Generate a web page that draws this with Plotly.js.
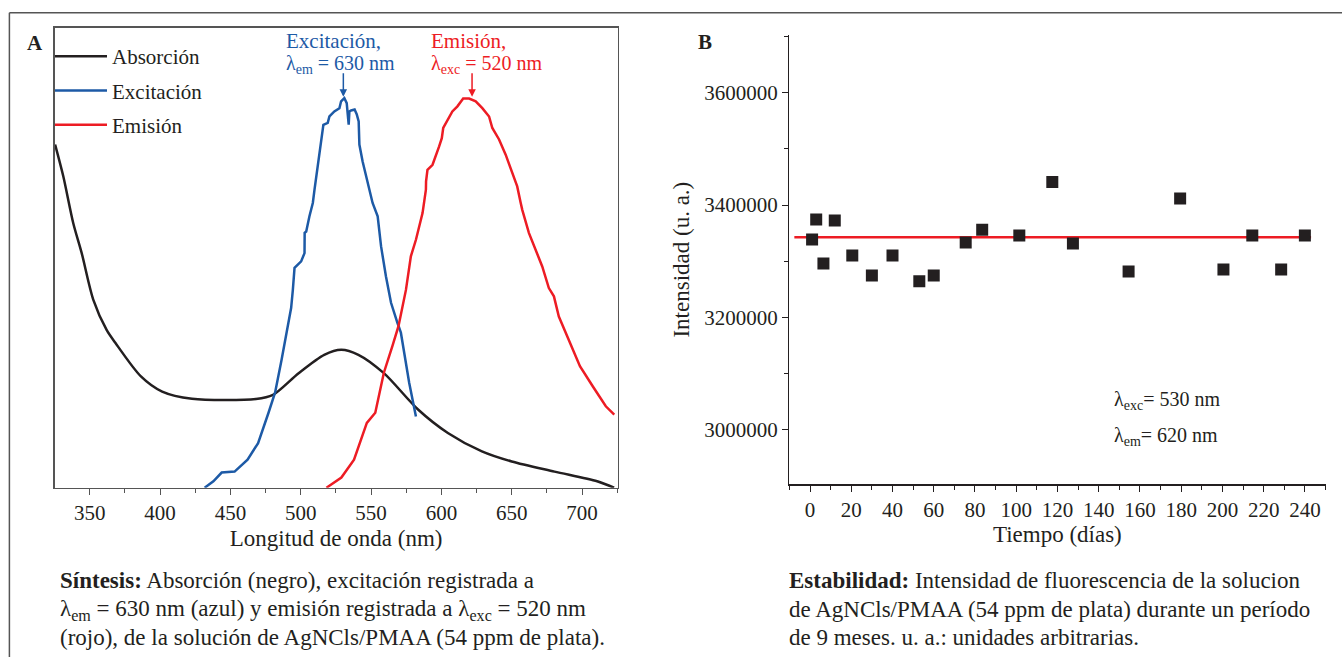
<!DOCTYPE html>
<html>
<head>
<meta charset="utf-8">
<script src="https://cdn.plot.ly/plotly-3.0.1.min.js"></script>
<style>html,body{margin:0;padding:0;background:#fff;}#chart{width:1342px;height:657px;}</style>
</head>
<body>
<div id="chart"></div>
<script>
// ---- Panel A: spectra (normalised intensity, no y units) ----
const absWl = [325.4,331.2,338.3,344.3,352.5,362.0,368.2,386.4,401.5,422.7,468.2,480.3,498.5,516.7,528.8,541.0,559.1,583.4,604.6,628.8,650.0,680.4,710.7,722.8];
const absVal = [0.746,0.677,0.575,0.510,0.409,0.343,0.315,0.242,0.209,0.1935,0.193,0.202,0.249,0.289,0.300,0.289,0.249,0.170,0.119,0.079,0.057,0.035,0.014,0.0];

const excWl = [431.7,437.9,443.8,453.0,462.2,469.7,477.1,481.8,486.4,490.8,493.2,494.4,495.6,500.3,502.7,502.8,503.9,506.2,508.6,509.8,512.1,514.5,516.1,519.2,520.4,523.9,527.5,528.7,531.0,532.7,534.1,534.6,535.8,538.3,539.8,541.2,541.7,544.0,547.6,548.8,551.1,554.7,557.1,560.6,564.2,568.8,571.2,577.1,581.9];
const excVal = [0.0,0.014,0.033,0.035,0.061,0.097,0.163,0.207,0.278,0.351,0.391,0.430,0.478,0.492,0.510,0.554,0.557,0.590,0.619,0.648,0.702,0.753,0.789,0.793,0.807,0.818,0.825,0.840,0.847,0.836,0.789,0.818,0.820,0.822,0.812,0.796,0.746,0.709,0.666,0.648,0.619,0.590,0.525,0.459,0.402,0.358,0.337,0.228,0.155];

const emiWl = [518.3,528.9,537.9,547.0,553.0,559.1,565.1,569.5,574.8,578.3,581.9,586.6,589.0,589.1,590.1,593.7,598.4,600.3,601.3,604.3,607.8,611.4,615.5,619.7,624.4,629.1,633.9,636.2,641.0,645.7,650.4,653.9,656.4,657.5,662.2,667.0,671.7,676.4,680.0,683.5,688.5,698.5,707.7,716.9,722.9];
const emiVal = [0.0,0.022,0.061,0.141,0.163,0.250,0.307,0.351,0.430,0.503,0.539,0.597,0.648,0.666,0.691,0.702,0.742,0.760,0.782,0.800,0.818,0.829,0.846,0.846,0.840,0.825,0.807,0.782,0.757,0.724,0.684,0.655,0.619,0.604,0.554,0.517,0.481,0.434,0.416,0.372,0.337,0.264,0.220,0.177,0.159];

const seriesNamesA = ["Absorción","Excitación","Emisión"];

// ---- Panel B: stability ----
const days = [1,3,6.5,12,20.5,30,40,53,60,75.5,83.5,101.5,117.5,127.5,154.5,179.5,200.5,214.5,228.5,240];
const intensity = [3339000,3374600,3296200,3372800,3310500,3274900,3310500,3264800,3274900,3333700,3356100,3346100,3441000,3331900,3282100,3411900,3285600,3346100,3285600,3346100];
const meanDays = [-7.6,243];
const meanLevel = [3343000,3343000];

const FONT = "Liberation Serif, Times New Roman, serif";
const TXT = "#231f20";
const BLUE = "#1d5aa6";
const RED = "#ed1c24";

const traces = [
  {x: absWl, y: absVal, name: seriesNamesA[0], type: "scatter", mode: "lines", line: {color: TXT, width: 2.5, shape: "spline", smoothing: 0.8}, xaxis: "x", yaxis: "y", legendgroup: "a"},
  {x: excWl, y: excVal, name: seriesNamesA[1], type: "scatter", mode: "lines", line: {color: BLUE, width: 2.5}, xaxis: "x", yaxis: "y", legendgroup: "b"},
  {x: emiWl, y: emiVal, name: seriesNamesA[2], type: "scatter", mode: "lines", line: {color: RED, width: 2.5}, xaxis: "x", yaxis: "y", legendgroup: "c"},
  {x: meanDays, y: meanLevel, type: "scatter", mode: "lines", line: {color: RED, width: 2.5}, xaxis: "x2", yaxis: "y2", showlegend: false},
  {x: days, y: intensity, type: "scatter", mode: "markers", marker: {symbol: "square", size: 12, color: TXT}, xaxis: "x2", yaxis: "y2", showlegend: false}
];

function py(p){ return 1 - p/657; }
function px(p){ return p/1342; }

const ann = [];
function txt(text, x, y, size, color, extra){
  ann.push(Object.assign({text: text, x: px(x), y: py(y), xref: "paper", yref: "paper", showarrow: false, xanchor: "left", yanchor: "middle", align: "left", font: {family: FONT, size: size, color: color || TXT}}, extra || {}));
}
// panel labels
txt("<b>A</b>", 35, 43, 21, TXT, {xanchor: "center"});
txt("<b>B</b>", 705, 42, 21, TXT, {xanchor: "center"});
// peak labels
txt("Excitación,", 284, 41, 21, BLUE);
txt("λ<sub>em</sub> = 630 nm", 284, 64, 20, BLUE);
txt("Emisión,", 429, 41, 21, RED);
txt("λ<sub>exc</sub> = 520 nm", 429, 64, 20, RED);
// arrows
ann.push({x: 530.3, y: 0.85, xref: "x", yref: "y", text: "", showarrow: true, ax: 0, ay: -25, arrowhead: 2, arrowsize: 1, arrowwidth: 1.5, arrowcolor: BLUE});
ann.push({x: 621.8, y: 0.85, xref: "x", yref: "y", text: "", showarrow: true, ax: 0, ay: -25, arrowhead: 2, arrowsize: 1, arrowwidth: 1.5, arrowcolor: RED});
// panel B notes
txt("λ<sub>exc</sub>= 530 nm", 1112, 400, 20);
txt("λ<sub>em</sub>= 620 nm", 1112, 436, 20);
// captions
const CAP = 23;
txt("<b>Síntesis:</b> Absorción (negro), excitación registrada a", 58, 580, CAP);
txt("λ<sub>em</sub> = 630 nm (azul) y emisión registrada a λ<sub>exc</sub> = 520 nm", 58, 610, CAP);
txt("(rojo), de la solución de AgNCls/PMAA (54 ppm de plata).", 58, 637, CAP);
txt("<b>Estabilidad:</b> Intensidad de fluorescencia de la solucion", 787, 580, CAP);
txt("de AgNCls/PMAA (54 ppm de plata) durante un período", 787, 609, CAP);
txt("de 9 meses. u. a.: unidades arbitrarias.", 787, 637, CAP);

const tickFont = {family: FONT, size: 21, color: TXT};
const titleFont = {family: FONT, size: 23, color: TXT};

const layout = {
  width: 1342, height: 657,
  margin: {l: 0, r: 0, t: 0, b: 0},
  paper_bgcolor: "#fff", plot_bgcolor: "#fff",
  font: {family: FONT, color: TXT},
  showlegend: true,
  legend: {x: px(50), y: py(36), xanchor: "left", yanchor: "top", bgcolor: "rgba(0,0,0,0)", font: {family: FONT, size: 21, color: TXT}, traceorder: "grouped", tracegroupgap: 4, itemwidth: 52},
  xaxis: {domain: [px(54.7), px(617.5)], anchor: "y", range: [325.1, 725.2], showline: true, linecolor: "#555", linewidth: 1.5, mirror: true,
    ticks: "outside", ticklen: 6, tickcolor: "#555", tick0: 350, dtick: 50, minor: {dtick: 25, ticklen: 4, ticks: "outside", tickcolor: "#555"},
    showgrid: false, zeroline: false, tickfont: tickFont, title: {text: "Longitud de onda (nm)", font: titleFont, standoff: 5}},
  yaxis: {domain: [py(487.7), py(27.7)], anchor: "x", range: [0, 1], showline: true, linecolor: "#555", linewidth: 1.5, mirror: true,
    ticks: "", showticklabels: false, showgrid: false, zeroline: false},
  xaxis2: {domain: [px(789.2), px(1325.5)], anchor: "y2", range: [-10.1, 250], showline: true, linecolor: TXT, linewidth: 1.2,
    ticks: "outside", ticklen: 6, tickcolor: TXT, tick0: 0, dtick: 20, minor: {dtick: 10, ticklen: 4, ticks: "outside", tickcolor: TXT},
    showgrid: false, zeroline: false, tickfont: tickFont, title: {text: "Tiempo (días)", font: titleFont, standoff: 5}},
  yaxis2: {domain: [py(484.3), py(35)], anchor: "x2", range: [2903400, 3702600], showline: true, linecolor: TXT, linewidth: 1.2,
    ticks: "outside", ticklen: 6, tickcolor: TXT, tick0: 3000000, dtick: 200000, tickformat: "d", minor: {dtick: 100000, ticklen: 4, ticks: "outside", tickcolor: TXT},
    showgrid: false, zeroline: false, tickfont: tickFont, title: {text: "Intensidad (u. a.)", font: titleFont, standoff: 8}},
  annotations: ann,
  shapes: [
    {type: "line", xref: "paper", yref: "paper", x0: px(9.4), x1: 1, y0: py(12.7), y1: py(12.7), line: {color: "#555", width: 1.5}},
    {type: "line", xref: "paper", yref: "paper", x0: px(9.4), x1: px(9.4), y0: py(12.7), y1: 0, line: {color: "#555", width: 1.5}}
  ]
};

Plotly.newPlot("chart", traces, layout, {displayModeBar: false, staticPlot: true});
</script>
</body>
</html>
